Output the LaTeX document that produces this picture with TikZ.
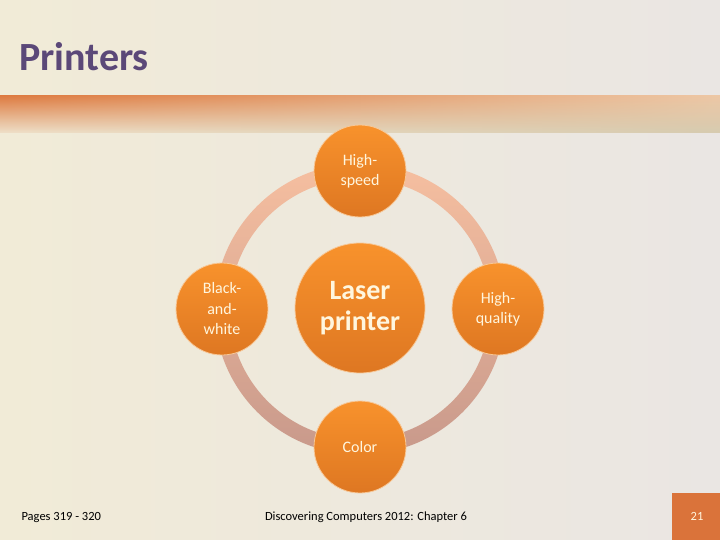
\documentclass[tikz,border=0pt]{standalone}
\usepackage{fontspec}
\usetikzlibrary{fadings}
\setmainfont{Carlito}
\definecolor{bgL}{HTML}{F1EBD7}
\definecolor{bgR}{HTML}{EAE6E3}
\definecolor{bandLT}{HTML}{DE7C42}
\definecolor{bandLM}{HTML}{E9AE85}
\definecolor{bandLB}{HTML}{EFE1CA}
\definecolor{bandRT}{HTML}{EDC8A6}
\definecolor{bandRM}{HTML}{EFE8D4}
\definecolor{bandRB}{HTML}{D6CBB0}
\definecolor{titlecol}{HTML}{5B4878}
\definecolor{ringT}{HTML}{F6BFA0}
\definecolor{ringB}{HTML}{C8998B}
\definecolor{bubT}{HTML}{F8922C}
\definecolor{bubB}{HTML}{DE7722}
\definecolor{bubEdge}{HTML}{F7C898}
\definecolor{txtcol}{HTML}{FFF6DE}
\definecolor{boxcol}{HTML}{DA733A}
\tikzfading[name=fadeR, left color=transparent!0, right color=transparent!100]
\tikzset{
  bubble/.style={circle, top color=bubT, bottom color=bubB, draw=bubEdge, line width=0.8pt,
    minimum size=92pt, inner sep=0pt, align=center, text=txtcol,
    font=\fontsize{16}{20.5}\selectfont},
  hub/.style={bubble, minimum size=130pt, font=\bfseries\fontsize{28}{31}\selectfont},
  foot/.style={anchor=base, font=\fontsize{12.5}{14}\selectfont, text=black}
}
\begin{document}
\begin{tikzpicture}[x=1pt,y=-1pt]
\useasboundingbox (0,0) rectangle (720,540);
% background
\shade[left color=bgL, right color=bgR] (0,0) rectangle (720,540);
% band: right-side colours underneath, left-side colours faded over them
\shade[top color=bandRT, middle color=bandRM, bottom color=bandRB] (0,96) rectangle (720,133);
\shade[top color=bandLT, middle color=bandLM, bottom color=bandLB, path fading=fadeR] (0,96) rectangle (720,133);
% title
\node[anchor=base west, font=\bfseries\fontsize{40}{44}\selectfont, text=titlecol, inner sep=0pt] (title) at (19,71) {Printers};
% ring
\shade[top color=ringT, bottom color=ringB, even odd rule] (360,309) circle[radius=145.5pt] (360,309) circle[radius=130.5pt];
% nodes
\node[hub] (laser) at (360,308) {Laser\\printer};
\node[bubble] (speed) at (360,171) {High-\\speed};
\node[bubble] (bw) at (222,309) {Black-\\and-\\white};
\node[bubble] (qual) at (498,309) {High-\\quality};
\node[bubble] (color) at (360,447) {Color};
% footer
\fill[boxcol] (672,493) rectangle (720,540);
\node[foot, anchor=base west] (pages) at (18,520) {Pages 319 - 320};
\node[foot] (disc) at (366,520) {Discovering Computers 2012: Chapter 6};
\node[foot, text=txtcol] (num) at (697,520) {21};
\end{tikzpicture}
\end{document}
